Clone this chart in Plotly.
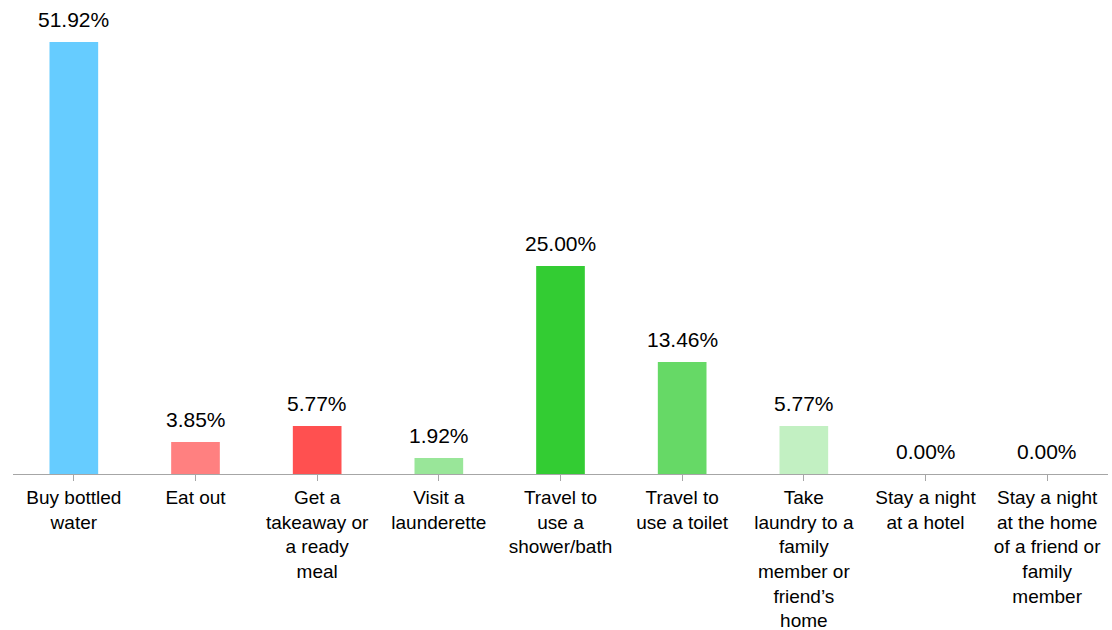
import plotly.graph_objects as go

categories = [
    "Buy bottled<br>water",
    "Eat out",
    "Get a<br>takeaway or<br>a ready<br>meal",
    "Visit a<br>launderette",
    "Travel to<br>use a<br>shower/bath",
    "Travel to<br>use a toilet",
    "Take<br>laundry to a<br>family<br>member or<br>friend\u2019s<br>home",
    "Stay a night<br>at a hotel",
    "Stay a night<br>at the home<br>of a friend or<br>family<br>member",
]
values = [51.92, 3.85, 5.77, 1.92, 25.00, 13.46, 5.77, 0.00, 0.00]
colors = ["#66CCFF", "#FF8080", "#FF5050", "#99E699", "#33CC33",
          "#66D966", "#C2F0C2", "#C2F0C2", "#C2F0C2"]

font = "Liberation Sans, Arial, sans-serif"
xs = list(range(len(categories)))

fig = go.Figure(
    go.Bar(
        x=xs,
        y=values,
        marker=dict(color=colors, line=dict(width=0)),
        width=0.4,
        hoverinfo="skip",
    )
)

# value labels above each bar
for x, v in zip(xs, values):
    fig.add_annotation(
        x=x, y=v, text=f"{v:.2f}%",
        showarrow=False, xanchor="center", yanchor="bottom",
        yshift=10, borderpad=0,
        font=dict(family=font, size=21, color="#000000"),
    )

fig.update_layout(
    width=1112,
    height=630,
    margin=dict(l=13, r=4, t=30, b=156, autoexpand=False),
    paper_bgcolor="white",
    plot_bgcolor="white",
    showlegend=False,
    font=dict(family=font, size=19, color="#000000"),
    xaxis=dict(
        tickmode="array",
        tickvals=xs,
        ticktext=categories,
        range=[-0.5, len(categories) - 0.5],
        tickson="boundaries",
        ticks="outside",
        ticklen=6,
        tickcolor="#A6A6A6",
        showline=True,
        linecolor="#A6A6A6",
        linewidth=1,
        showgrid=False,
        zeroline=False,
        tickangle=0,
        automargin=False,
        tickfont=dict(family=font, size=19, color="#000000"),
    ),
    yaxis=dict(
        range=[0, 53.36],
        visible=False,
        showgrid=False,
        zeroline=False,
    ),
)

fig.write_html("out.html")
